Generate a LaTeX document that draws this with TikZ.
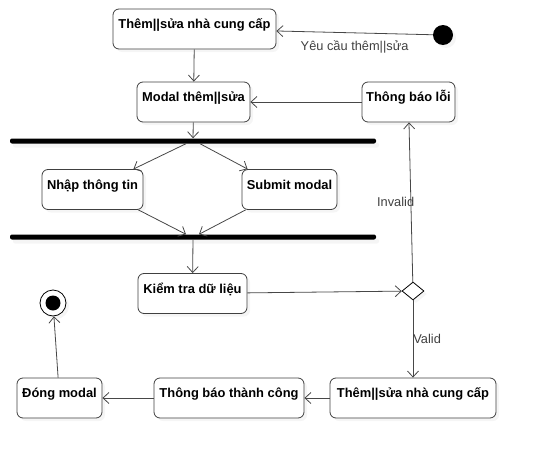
\documentclass[tikz,border=0pt]{standalone}
\usepackage{fontspec}
\setmainfont{Liberation Sans}
\usetikzlibrary{arrows.meta,shapes,shadows}

\begin{document}
\begin{tikzpicture}[->,>={Straight Barb[length=6pt,width=11pt]},auto,
                    x=1pt,y=-1pt,
                    every edge/.style={draw=black!72,line width=0.8pt}]
  \tikzstyle{action}=[rectangle,rounded corners=6pt,draw=black!75,fill=white,
                      line width=0.8pt,font=\fontsize{12.9}{15}\selectfont\bfseries,
                      inner xsep=2pt,inner ysep=2.5pt,text height=17pt,text depth=18pt,
                      drop shadow={shadow xshift=3pt,shadow yshift=-3pt,opacity=0.08}]
  \tikzstyle{bar}=[rectangle,rounded corners=2pt,fill=black,inner sep=0pt,
                   minimum width=366pt,minimum height=5pt,
                   drop shadow={shadow xshift=3pt,shadow yshift=-4pt,opacity=0.08}]
  \tikzstyle{guard}=[font=\fontsize{12.8}{15}\selectfont,text=black!75]

  \useasboundingbox (0,0) rectangle (536,458);

  \node[circle,fill=black,minimum size=20pt,inner sep=0pt,
        drop shadow={shadow xshift=3pt,shadow yshift=-3pt,opacity=0.08}]
                                   (START)     at (443,35)    {};
  \node[action,minimum width=163pt] (THEM)     at (194.5,29)  {Thêm||sửa nhà cung cấp};
  \node[action,minimum width=113pt] (MODAL)    at (193.5,102) {Modal thêm||sửa};
  \node[action,minimum width=93pt]  (LOI)      at (408.5,102) {Thông báo lỗi};
  \node[bar]                        (FORK)     at (193,141)   {};
  \node[action,minimum width=101pt] (NHAP)     at (92.5,189.5) {Nhập thông tin};
  \node[action,minimum width=95pt]  (SUBMIT)   at (289.5,189.5) {Submit modal};
  \node[bar]                        (JOIN)     at (193,237)   {};
  \node[action,minimum width=109pt] (KIEMTRA)  at (192.5,293.5) {Kiểm tra dữ liệu};
  \node[diamond,draw=black,fill=white,line width=0.8pt,inner sep=0pt,
        minimum width=22pt,minimum height=18pt,
        drop shadow={shadow xshift=3pt,shadow yshift=-3pt,opacity=0.08}]
                                   (CHECK)     at (413,291)   {};
  \node[action,minimum width=166pt] (THEM2)    at (413,398)   {Thêm||sửa nhà cung cấp};
  \node[action,minimum width=150pt] (THANHCONG) at (229,398)  {Thông báo thành công};
  \node[action,minimum width=85pt]  (DONG)     at (59.5,398)  {Đóng modal};
  \node[circle,draw=black,fill=white,line width=0.8pt,minimum size=26pt,inner sep=0pt,
        drop shadow={shadow xshift=3pt,shadow yshift=-3pt,opacity=0.08}]
                                   (END)       at (53,303)    {};
  \node[circle,fill=black,minimum size=15pt,inner sep=0pt] (ENDDOT) at (END) {};

  \path (START)   edge node[guard,below=4pt] {Yêu cầu thêm||sửa} (THEM)
        (THEM)    edge (MODAL)
        (LOI)     edge (MODAL)
        (MODAL)   edge (FORK)
        ([xshift=-7pt]FORK.south)      edge ([xshift=-10pt]NHAP.north east)
        ([xshift=7pt]FORK.south)       edge ([xshift=6pt]SUBMIT.north west)
        ([xshift=-5pt]NHAP.south east) edge ([xshift=-7pt]JOIN.north)
        ([xshift=4pt]SUBMIT.south west) edge ([xshift=6pt]JOIN.north)
        (JOIN)    edge (KIEMTRA)
        (KIEMTRA) edge (CHECK)
        (CHECK)   edge node[guard,midway,left,xshift=7pt] {Invalid} (LOI)
                  edge node[guard,midway,right,inner sep=0pt] {Valid} (THEM2)
        (THEM2)   edge (THANHCONG)
        (THANHCONG) edge (DONG)
        (DONG)    edge (END);
\end{tikzpicture}
\end{document}
